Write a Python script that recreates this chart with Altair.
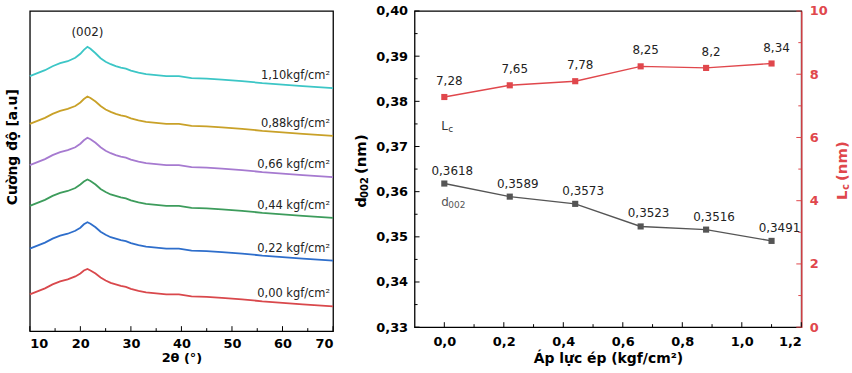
import altair as alt
import pandas as pd

FONT = "DejaVu Sans"
RED = "#e0474c"
GREY = "#555555"

# ---------------- XRD patterns (stacked, arbitrary units) ----------------
two_theta = [10, 11.5, 13, 14.5, 16, 17.5, 19, 20, 20.7, 21.4, 22, 23, 24, 25, 26, 27, 28,
             29, 30, 31.5, 33, 35, 37, 39.5, 42, 45, 48, 52, 56, 60, 64, 67, 70]

i_000 = [37, 40, 43, 47, 50, 52, 55, 58, 61, 62.5, 61, 58, 54, 51, 48.5, 47, 45.5,
         44.5, 42.5, 40.5, 39, 38, 37, 37, 35, 34.5, 33.5, 32, 30, 28.5, 27, 26, 25]
i_022 = [83, 86, 89, 93, 96, 98, 101, 104, 107.5, 109.5, 108, 104.5, 100, 97, 94.5, 93, 91.5,
         90.5, 88.5, 86.5, 85, 84, 83, 83, 81, 80.5, 79.5, 78, 76, 74.5, 73, 72, 71]
i_044 = [126, 129, 132, 136, 139, 141, 144, 147.5, 150.5, 152.5, 151, 147.5, 143, 140, 137.5, 136, 134.5,
         133.5, 131.5, 129.5, 128, 127, 126, 126, 124, 123.5, 122.5, 121, 119, 117.5, 116, 115, 114]
i_066 = [167, 170, 173, 177, 180, 182, 185, 188.5, 192, 194.5, 193, 189.5, 185, 181.5, 179, 177, 175.5,
         174.5, 172.5, 170.5, 169, 168, 167, 167, 165, 164.5, 163.5, 162, 160, 158.5, 157, 156, 155]
i_088 = [208.5, 211.5, 214.5, 218.5, 221.5, 223.5, 226.5, 230, 233.5, 236, 234.5, 231, 226.5, 223, 220.5, 218.5, 217,
         216, 214, 212, 210.5, 209.5, 208.5, 208.5, 206.5, 206, 205, 203.5, 201.5, 200, 198.5, 197.5, 196.5]
i_110 = [256.5, 259.5, 262.5, 266.5, 269.5, 271.5, 275, 279, 283, 286, 284, 279.5, 274.5, 271, 268.5, 266.5, 265,
         264, 262, 260, 258.5, 257.5, 256.5, 256.5, 254.5, 254, 253, 251.5, 249.5, 248, 246.5, 245.5, 244.5]

samples = ["0,00 kgf/cm²", "0,22 kgf/cm²", "0,44 kgf/cm²",
           "0,66 kgf/cm²", "0,88kgf/cm²", "1,10kgf/cm²"]
sample_colors = ["#d9484c", "#2e6ecb", "#3d9c5c", "#a67ad0", "#c9a128", "#3cc6c6"]
curves = [i_000, i_022, i_044, i_066, i_088, i_110]

theta_major = [10, 20, 30, 40, 50, 60, 70]
theta_minor = [15, 25, 35, 45, 55, 65]

# ---------------- d002 and Lc versus pressing pressure ----------------
pressure = [0.0, 0.22, 0.44, 0.66, 0.88, 1.10]
d002 = [0.3618, 0.3589, 0.3573, 0.3523, 0.3516, 0.3491]
d002_text = ["0,3618", "0,3589", "0,3573", "0,3523", "0,3516", "0,3491"]
lc = [7.28, 7.65, 7.78, 8.25, 8.2, 8.34]
lc_text = ["7,28", "7,65", "7,78", "8,25", "8,2", "8,34"]

p_major = [0.0, 0.2, 0.4, 0.6, 0.8, 1.0, 1.2]
p_minor = [0.1, 0.3, 0.5, 0.7, 0.9, 1.1]
d_major = [0.33, 0.34, 0.35, 0.36, 0.37, 0.38, 0.39, 0.40]
d_minor = [0.335, 0.345, 0.355, 0.365, 0.375, 0.385, 0.395]
lc_major = [0, 2, 4, 6, 8, 10]
lc_minor = [1, 3, 5, 7, 9]

# ======================= left panel: XRD =======================
W1, H1 = 305, 322

rows = []
for name, ys in zip(samples, curves):
    for t, v in zip(two_theta, ys):
        rows.append({"theta": t, "intensity": v, "sample": name})
xrd = pd.DataFrame(rows)
xrd_end = xrd[xrd["theta"] == two_theta[-1]]
peak = xrd[xrd["sample"] == samples[-1]].sort_values("intensity").tail(1).assign(tag="(002)")

x1 = alt.X("theta:Q", scale=alt.Scale(domain=[10, 70], nice=False, zero=False),
           axis=alt.Axis(values=theta_major, ticks=False, domain=False, grid=False,
                         title="2θ (°)", labelFontSize=13, labelFontWeight="bold",
                         titleFontSize=13, titleFontWeight="bold",
                         labelPadding=6, titlePadding=2))
y1 = alt.Y("intensity:Q", scale=alt.Scale(domain=[0, H1], nice=False), axis=None)

xrd_lines = alt.Chart(xrd).mark_line(strokeWidth=1.8).encode(
    x=x1, y=y1,
    color=alt.Color("sample:N", scale=alt.Scale(domain=samples, range=sample_colors), legend=None),
)
xrd_labels = alt.Chart(xrd_end).mark_text(
    align="right", baseline="middle", dx=-3, dy=-12, fontSize=11.5, font=FONT, color="#222222"
).encode(x=x1, y=y1, text="sample:N")
peak_label = alt.Chart(peak).mark_text(
    baseline="middle", dy=-15, fontSize=12, font=FONT, color="#222222"
).encode(x=x1, y=y1, text="tag:N")

theta_ticks_major = alt.Chart(pd.DataFrame({"theta": theta_major})).mark_rule(
    color="black", strokeWidth=1).encode(x=x1, y=alt.value(H1), y2=alt.value(H1 - 5))
theta_ticks_minor = alt.Chart(pd.DataFrame({"theta": theta_minor})).mark_rule(
    color="black", strokeWidth=1).encode(x=x1, y=alt.value(H1), y2=alt.value(H1 - 3))

one = pd.DataFrame({"k": [0]})
left_title = alt.Chart(one).mark_text(
    text="Cường độ [a.u]", angle=270, baseline="middle", align="center",
    fontSize=14, fontWeight="bold", font=FONT, color="black"
).encode(x=alt.value(-17), y=alt.value(137))

left = alt.layer(
    xrd_lines, xrd_labels, peak_label, theta_ticks_major, theta_ticks_minor, left_title
).properties(width=W1, height=H1)

# ======================= right panel: d002 & Lc =======================
W2, H2 = 389, 318

props = pd.DataFrame({"p": pressure, "d": d002, "dl": d002_text, "lc": lc, "ll": lc_text})

dec_expr1 = "replace(format(datum.value, '.1f'), '.', ',')"
dec_expr2 = "replace(format(datum.value, '.2f'), '.', ',')"

x2 = alt.X("p:Q", scale=alt.Scale(domain=[-0.1, 1.2], nice=False, zero=False),
           axis=alt.Axis(values=p_major, labelExpr=dec_expr1, ticks=False, domain=False, grid=False,
                         title="Áp lực ép (kgf/cm²)", labelFontSize=13, labelFontWeight="bold",
                         titleFontSize=14, titleFontWeight="bold", labelPadding=8, titlePadding=4))
yd = alt.Y("d:Q", scale=alt.Scale(domain=[0.33, 0.40], nice=False, zero=False),
           axis=alt.Axis(values=d_major, labelExpr=dec_expr2, ticks=False, domain=False, grid=False,
                         title=None, labelFontSize=13, labelFontWeight="bold", labelPadding=7))
yl = alt.Y("lc:Q", scale=alt.Scale(domain=[0, 10], nice=False, zero=False),
           axis=alt.Axis(orient="right", values=lc_major, ticks=False, domain=True, grid=False,
                         domainColor=RED, domainWidth=1.4, labelColor=RED,
                         title=None, labelFontSize=13, labelFontWeight="bold", labelPadding=8))

# --- d002 series (left axis) ---
d_line = alt.Chart(props).mark_line(color=GREY, strokeWidth=1.4).encode(x=x2, y=yd)
d_pts = alt.Chart(props).mark_square(size=38, color=GREY, opacity=1).encode(x=x2, y=yd)
d_vals = alt.Chart(props).mark_text(
    baseline="bottom", dx=8, dy=-6, fontSize=12, font=FONT, color="#222222"
).encode(x=x2, y=yd, text="dl:N")

d_tag = pd.DataFrame({"p": [0.0], "d": [0.3578]})
d_tag_main = alt.Chart(d_tag).mark_text(
    text="d", align="left", baseline="middle", dx=-3, fontSize=12, font=FONT, color=GREY
).encode(x=x2, y=yd)
d_tag_sub = alt.Chart(d_tag).mark_text(
    text="002", align="left", baseline="middle", dx=4, dy=3, fontSize=9, font=FONT, color=GREY
).encode(x=x2, y=yd)

p_ticks_major = alt.Chart(pd.DataFrame({"p": p_major})).mark_rule(
    color="black", strokeWidth=1).encode(x=x2, y=alt.value(H2), y2=alt.value(H2 - 5))
p_ticks_minor = alt.Chart(pd.DataFrame({"p": p_minor})).mark_rule(
    color="black", strokeWidth=1).encode(x=x2, y=alt.value(H2), y2=alt.value(H2 - 3))
d_ticks_major = alt.Chart(pd.DataFrame({"d": d_major})).mark_rule(
    color="black", strokeWidth=1).encode(y=yd, x=alt.value(0), x2=alt.value(5))
d_ticks_minor = alt.Chart(pd.DataFrame({"d": d_minor})).mark_rule(
    color="black", strokeWidth=1).encode(y=yd, x=alt.value(0), x2=alt.value(3))

# vertical axis title d002 (nm), built from pieces for the subscript
d_title_a = alt.Chart(one).mark_text(
    text="d", angle=270, align="left", baseline="middle", fontSize=15, fontWeight="bold",
    font=FONT, color="black").encode(x=alt.value(-54), y=alt.value(198))
d_title_b = alt.Chart(one).mark_text(
    text="002", angle=270, align="left", baseline="middle", fontSize=10, fontWeight="bold",
    font=FONT, color="black").encode(x=alt.value(-50), y=alt.value(188))
d_title_c = alt.Chart(one).mark_text(
    text="(nm)", angle=270, align="left", baseline="middle", fontSize=15, fontWeight="bold",
    font=FONT, color="black").encode(x=alt.value(-54), y=alt.value(164))

d_group = alt.layer(d_line, d_pts, d_vals, d_tag_main, d_tag_sub,
                    p_ticks_major, p_ticks_minor, d_ticks_major, d_ticks_minor,
                    d_title_a, d_title_b, d_title_c)

# --- Lc series (right axis) ---
lc_line = alt.Chart(props).mark_line(color=RED, strokeWidth=1.4).encode(x=x2, y=yl)
lc_pts = alt.Chart(props).mark_square(size=38, color=RED, opacity=1).encode(x=x2, y=yl)
lc_vals = alt.Chart(props).mark_text(
    baseline="bottom", dx=5, dy=-9, fontSize=12, font=FONT, color="#222222"
).encode(x=x2, y=yl, text="ll:N")

lc_tag = pd.DataFrame({"p": [0.0], "lc": [6.35]})
lc_tag_main = alt.Chart(lc_tag).mark_text(
    text="L", align="left", baseline="middle", dx=-3, fontSize=12, font=FONT, color="#333333"
).encode(x=x2, y=yl)
lc_tag_sub = alt.Chart(lc_tag).mark_text(
    text="c", align="left", baseline="middle", dx=4, dy=3, fontSize=9, font=FONT, color="#333333"
).encode(x=x2, y=yl)

lc_ticks_major = alt.Chart(pd.DataFrame({"lc": lc_major})).mark_rule(
    color=RED, strokeWidth=1).encode(y=yl, x=alt.value(W2), x2=alt.value(W2 - 5))
lc_ticks_minor = alt.Chart(pd.DataFrame({"lc": lc_minor})).mark_rule(
    color=RED, strokeWidth=1).encode(y=yl, x=alt.value(W2), x2=alt.value(W2 - 3))

lc_title_a = alt.Chart(one).mark_text(
    text="L", angle=270, align="left", baseline="middle", fontSize=15, fontWeight="bold",
    font=FONT, color=RED).encode(x=alt.value(W2 + 41), y=alt.value(190))
lc_title_b = alt.Chart(one).mark_text(
    text="c", angle=270, align="left", baseline="middle", fontSize=10, fontWeight="bold",
    font=FONT, color=RED).encode(x=alt.value(W2 + 45), y=alt.value(180))
lc_title_c = alt.Chart(one).mark_text(
    text="(nm)", angle=270, align="left", baseline="middle", fontSize=15, fontWeight="bold",
    font=FONT, color=RED).encode(x=alt.value(W2 + 41), y=alt.value(171))

lc_group = alt.layer(lc_line, lc_pts, lc_vals, lc_tag_main, lc_tag_sub,
                     lc_ticks_major, lc_ticks_minor, lc_title_a, lc_title_b, lc_title_c)

right = alt.layer(d_group, lc_group).resolve_scale(y="independent").properties(width=W2, height=H2)

chart = alt.hconcat(left, right, spacing=15).properties(
    padding={"left": 5, "top": 3, "right": 0, "bottom": 0}
).configure_view(
    stroke="black", strokeWidth=1.3
).configure_axis(
    labelFont=FONT, titleFont=FONT, labelColor="black", titleColor="black"
)

chart.save("out.html", embed_options={"renderer": "svg", "actions": False})
